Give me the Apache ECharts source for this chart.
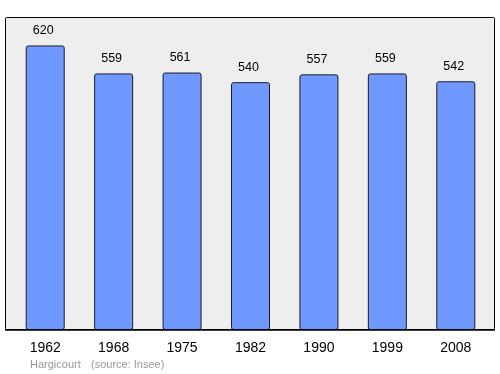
<!DOCTYPE html>
<html><head><meta charset="utf-8">
<script src="https://cdn.jsdelivr.net/npm/echarts@6/dist/echarts.min.js"></script>
<style>html,body{margin:0;padding:0;background:#fff}#c{width:500px;height:374px}</style>
</head><body><div id="c"></div>
<script>
const categories = ['1962','1968','1975','1982','1990','1999','2008'];
const population = [620, 559, 561, 540, 557, 559, 542];
const FONT = '"Liberation Sans", Arial, sans-serif';
const chart = echarts.init(document.getElementById('c'));
chart.setOption({
  animation: false,
  backgroundColor: '#ffffff',
  graphic: [
    {type:'rect', z:-10, shape:{x:5.5,y:17.5,width:489,height:312, r:1}, style:{fill:'#eeeeee', stroke:'#000', lineWidth:1}},
    {type:'line', z:100, shape:{x1:5,y1:330,x2:495,y2:330}, style:{stroke:'#000', lineWidth:1.5}},
    {type:'text', left:30, top:359, style:{text:'Hargicourt', fill:'#999', font:'11px ' + FONT}},
    {type:'text', left:91, top:359, style:{text:'(source: Insee)', fill:'#999', font:'11px ' + FONT}}
  ],
  grid: {left: 11, right: 10, top: 17, bottom: 44, containLabel: false},
  xAxis: {
    type: 'category', data: categories,
    axisLine:{show:false}, axisTick:{show:false},
    axisLabel:{color:'#000', fontSize:14, margin:11, fontFamily:FONT}
  },
  yAxis: {type:'value', min:0, max:682, show:false, splitLine:{show:false}},
  series: [{
    type:'bar', data: population, barWidth: 39,
    itemStyle:{color:'#7099ff', borderColor:'#1a1a2a', borderWidth:1, borderRadius:2},
    label:{show:true, position:'top', distance:8, offset:[-2,0], color:'#000', fontSize:12.5, fontFamily:FONT}
  }]
});
</script></body></html>
